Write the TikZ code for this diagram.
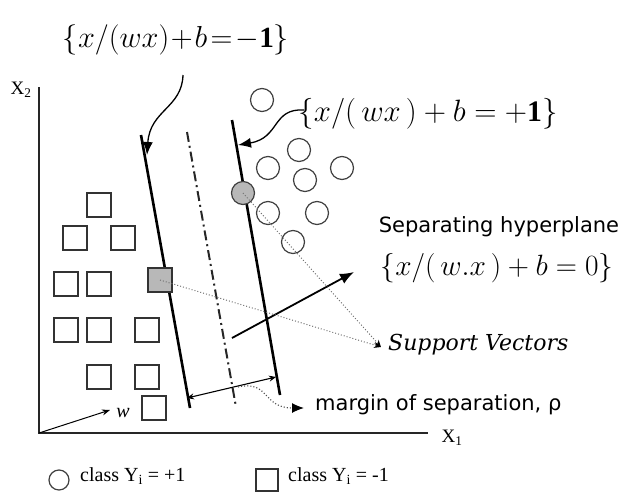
\documentclass[tikz,border=0pt]{standalone}
\usepackage{graphicx}
\usepackage{fontspec}
\setmainfont{Liberation Serif}
\newfontfamily\dejasans{DejaVu Sans}
\newfontfamily\dejaserif{DejaVu Serif}
\usetikzlibrary{arrows.meta}
\begin{document}
\begin{tikzpicture}[x=1pt,y=-1pt,
  posclass/.style={circle, draw=black!75, line width=1.2pt, minimum size=23pt, inner sep=0pt},
  negclass/.style={rectangle, draw=black!80, line width=1.2pt, minimum size=24pt, inner sep=0pt},
  svfill/.style={fill=black!28},
  plane/.style={line width=2.6pt, black},
  midplane/.style={line width=2pt, black!85, dash pattern=on 10pt off 4pt on 2pt off 4pt},
  axisline/.style={line width=1.5pt, black!85},
  eqlabel/.style={font=\fontsize{24}{28}\selectfont, inner sep=0pt},
  callout/.style={line width=1.3pt, -{Latex[length=13pt,width=10pt]}},
  svarrow/.style={line width=1pt, black!55, dotted, -{Stealth[length=7pt,width=6pt,black]}},
  sanslbl/.style={font=\dejasans\fontsize{21}{24}\selectfont, inner sep=0pt},
  legendtxt/.style={font=\fontsize{20}{22}\selectfont, inner sep=0pt, anchor=west}
]
\useasboundingbox (0,0) rectangle (625,491);

% axes
\coordinate (ytop) at (39,87);
\coordinate (O) at (39,433);
\coordinate (xend) at (428,433);
\draw[axisline] (ytop) -- (O) -- (xend);
\node[font=\fontsize{19}{21}\selectfont] (x2) at (21,90) {X\textsubscript{2}};
\node[font=\fontsize{19}{21}\selectfont] (x1) at (452,438) {X\textsubscript{1}};

% hyperplanes
\coordinate (L1a) at (141,135); \coordinate (L1b) at (190,408);
\coordinate (L0a) at (187,132); \coordinate (L0b) at (236,407);
\coordinate (L2a) at (232,120); \coordinate (L2b) at (280,395);
\draw[plane] (L1a) -- (L1b);
\draw[midplane] (L0a) -- (L0b);
\draw[plane] (L2a) -- (L2b);

% class +1 circles
\node[posclass] (c1) at (262,100) {};
\node[posclass] (c2) at (299,150) {};
\node[posclass] (c3) at (268,168) {};
\node[posclass] (c4) at (342,168) {};
\node[posclass] (c5) at (305,180) {};
\node[posclass,svfill] (c6) at (243,193) {};
\node[posclass] (c7) at (268,213) {};
\node[posclass] (c8) at (317,213) {};
\node[posclass] (c9) at (293,242) {};

% class -1 squares
\node[negclass] (s1) at (99,205) {};
\node[negclass] (s2) at (75,238) {};
\node[negclass] (s3) at (123,238) {};
\node[negclass] (s4) at (66,284) {};
\node[negclass] (s5) at (99,284) {};
\node[negclass,svfill] (s6) at (160,280) {};
\node[negclass] (s7) at (66,330) {};
\node[negclass] (s8) at (99,330) {};
\node[negclass] (s9) at (147,330) {};
\node[negclass] (s10) at (99,377) {};
\node[negclass] (s11) at (147,377) {};
\node[negclass] (s12) at (154,408) {};

% labels of the hyperplanes
\node[eqlabel] (lneg) at (176,40) {\scalebox{1.22}{$\biggl\{x/\Bigl(wx\Bigr)\!+\!b\!=\!-\mathbf{1}\biggr\}$}};
\node[eqlabel] (lpos) at (428,114) {\scalebox{1.24}{$\Bigl\{x/\Bigl(\,wx\,\Bigr)+b=+\mathbf{1}\Bigr\}$}};
\node[sanslbl] (sephead) at (499,227) {Separating hyperplane};
\node[eqlabel] (lzero) at (497,268) {\scalebox{1.18}{$\Bigl\{x/\Bigl(\,w.x\,\Bigr)+b=0\Bigr\}$}};

\coordinate (negstart) at (183,75);
\coordinate (neghit) at (147,155);
\draw[callout] (negstart) .. controls (182,108) and (150,110) .. (neghit);
\coordinate (posstart) at (304,110);
\coordinate (poshit) at (238,145);
\draw[callout] (posstart) .. controls (272,108) and (280,138) .. (poshit);

% normal vector
\coordinate (nstart) at (232,338);
\coordinate (ntip) at (354,272);
\draw[line width=1.8pt, -{Latex[length=14pt,width=11pt]}] (nstart) -- (ntip);

% support vectors
\node[font=\dejaserif\itshape\fontsize{22}{24}\selectfont, inner sep=0pt, anchor=west] (svlbl) at (388,345) {Support Vectors};
\coordinate (svtip) at (381,347);
\draw[svarrow] (s6.center) -- (svtip);
\draw[svarrow] (c6.center) -- (svtip);

% margin
\coordinate (mL) at (187,398);
\coordinate (mR) at (276,377);
\draw[line width=1.1pt, {Stealth[length=7pt,width=6pt]}-{Stealth[length=7pt,width=6pt]}] (mL) -- (mR);
\coordinate (mmid) at (238,387);
\node[sanslbl, anchor=west] (marginlbl) at (315,405) {margin of separation, ρ};
\coordinate (margintip) at (304,408);
\draw[line width=1.1pt, black!70, dotted, -{Latex[length=12pt,width=10pt,black]}] (mmid) .. controls (270,380) and (262,408) .. (margintip);

% weight vector
\coordinate (wtip) at (110,410);
\draw[line width=1pt, -{Stealth[length=8pt,width=6pt]}] (O) -- (wtip);
\node[font=\itshape\fontsize{20}{22}\selectfont, inner sep=0pt] (wlbl) at (123,413) {w};

% legend
\node[posclass, minimum size=20pt] (legc) at (59,480) {};
\node[legendtxt] (legctxt) at (80,476) {class Y\textsubscript{i} = +1};
\node[negclass, minimum size=22pt] (legs) at (267,480) {};
\node[legendtxt] (legstxt) at (288,476) {class Y\textsubscript{i} = -1};
\end{tikzpicture}
\end{document}
